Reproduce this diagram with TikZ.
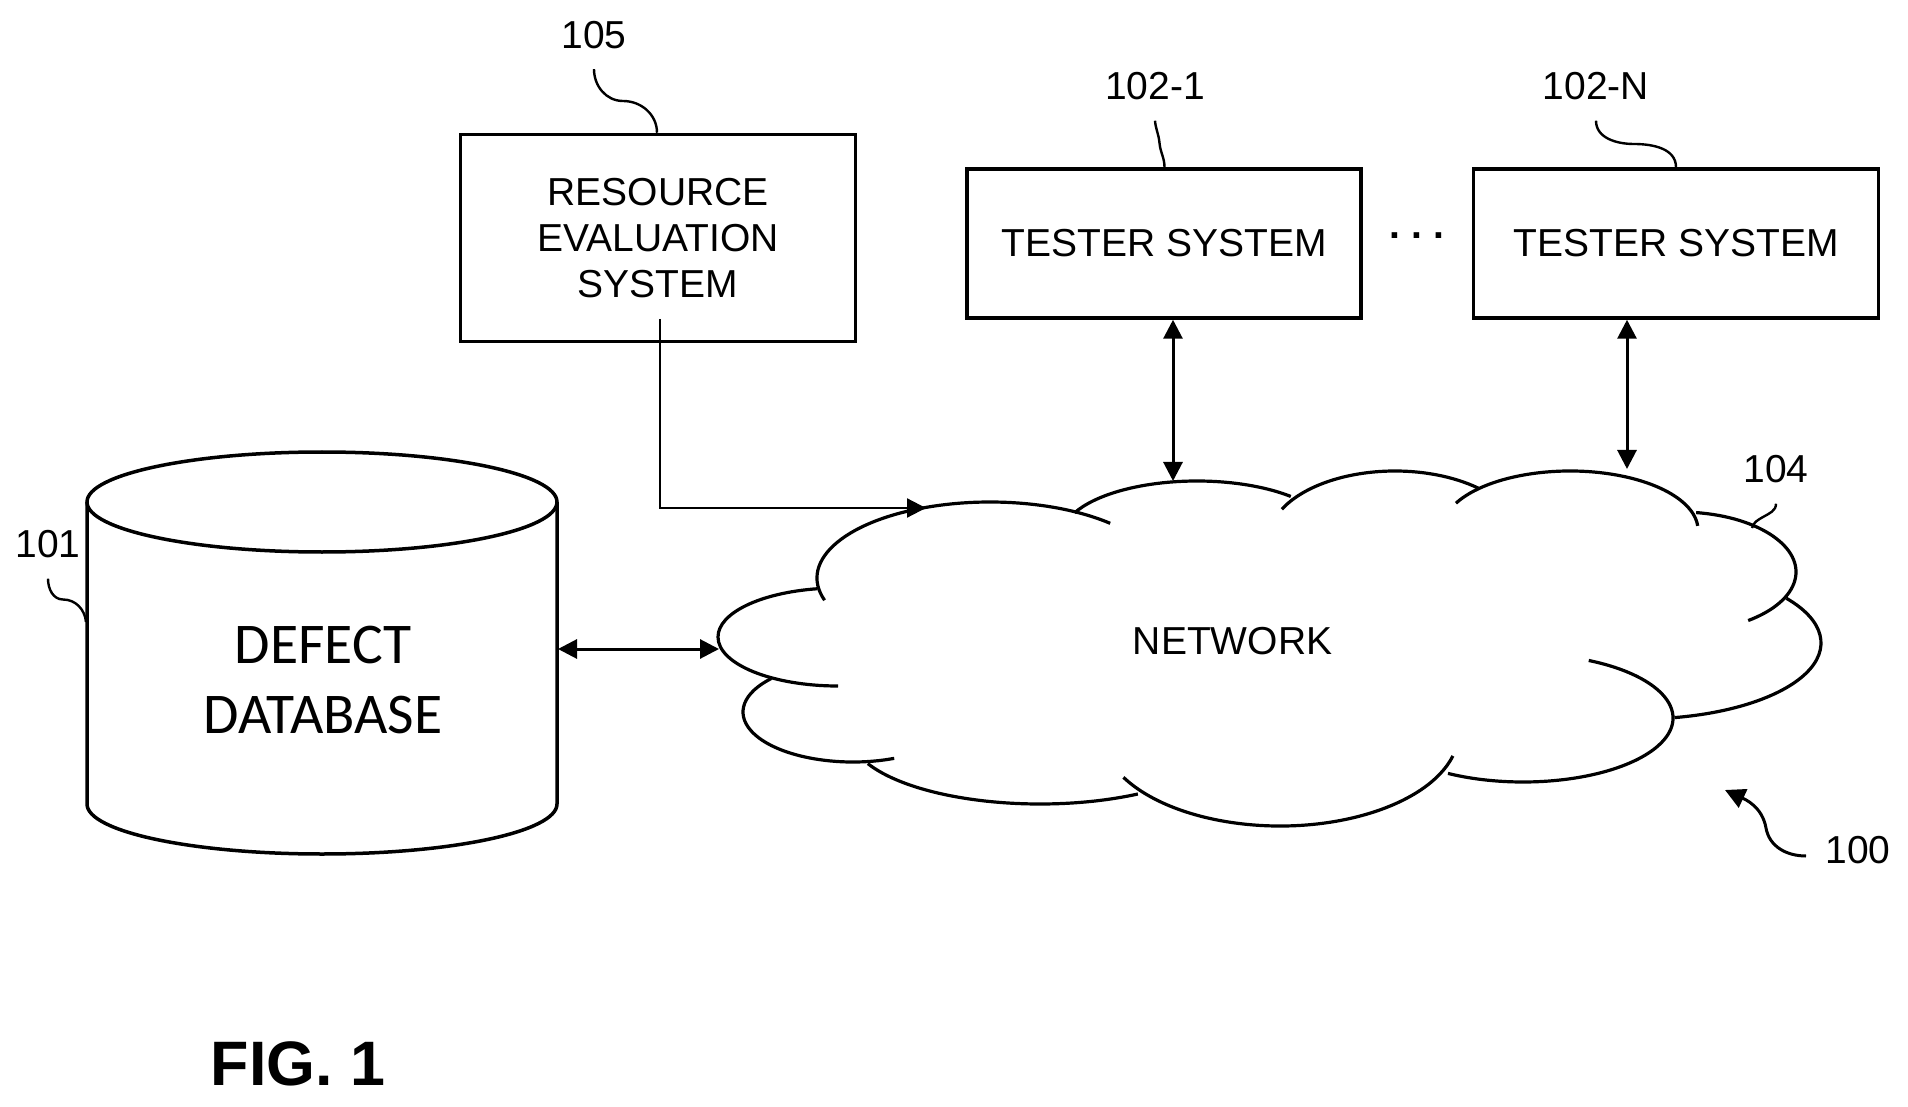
\documentclass[tikz,border=0pt]{standalone}
\usepackage{fontspec}
\setmainfont{Liberation Sans}
\newfontfamily\dbfont{Carlito}
\usetikzlibrary{arrows.meta}
\frenchspacing
\tikzset{
	sysbox/.style={draw,line width=1.75pt,minimum height=149*0.5pt,inner sep=0pt},
	tag/.style={inner sep=0pt},
	tagline/.style={line width=1.2pt},
	lobe/.style={line width=1.6pt},
	both/.style={line width=1.5pt,{Triangle[length=9.5pt,width=9.5pt]}-{Triangle[length=9.5pt,width=9.5pt]}},
	one/.style={line width=1.1pt,-{Triangle[length=9.5pt,width=9.5pt]}}
}
% one lobe of the cloud: centre x, centre y, radii, first and last angle
\newcommand{\lobe}[6]{\draw[lobe] ({#1+#3*cos(#5)},{#2+#4*sin(#5)}) arc [start angle=#5,end angle=#6,x radius=#3,y radius=#4];}
\begin{document}
\begin{tikzpicture}[x=0.5pt,y=-0.5pt,every node/.style={font=\fontsize{19.5}{23.2}\selectfont}]
\useasboundingbox (0,0) rectangle (1908,1107);
	% boxes
	\node[sysbox,minimum width=395*0.5pt,minimum height=207*0.5pt,align=center] (res) at (658,238) {RESOURCE\\EVALUATION\\SYSTEM};
	\node[sysbox,minimum width=394*0.5pt] (tester1) at (1164,243.5) {TESTER SYSTEM};
	\node[sysbox,minimum width=405*0.5pt] (testerN) at (1676,243.5) {TESTER SYSTEM};
	\node[inner sep=0pt] (dots) at (1417,236) {\bfseries . . .};
	% database
	\draw[line width=1.75pt] (322,502) ellipse [x radius=235,y radius=50];
	\draw[line width=1.75pt] (87,502) -- (87,804) arc [start angle=180,end angle=0,x radius=235,y radius=50] -- (557,502);
	\node[align=center,font=\dbfont\fontsize{28.8}{35}\selectfont] (db) at (323,680) {DEFECT\\DATABASE};
	% network
	\node (net) at (1232.5,641) {NETWORK};
	\lobe{990}{578}{173}{76}{163}{314}
	\lobe{1197}{536}{135}{55}{205}{314}
	\lobe{1395}{541}{127}{70}{207}{311}
	\lobe{1570}{530}{128}{59}{207}{356}
	\lobe{1680}{572}{116}{60}{278}{414}
	\lobe{1640}{643}{181}{76}{324}{439}
	\lobe{1523}{718}{150}{64}{296}{480}
	\lobe{1280}{731.5}{179}{94.5}{15}{151}
	\lobe{1040}{734}{190}{70}{59}{155}
	\lobe{853}{712}{110}{50}{68}{222}
	\lobe{838}{637}{120}{49}{90}{260}
	% connectors
	\coordinate (dbeast) at (558,649);
	\coordinate (netwest) at (719,649);
	\coordinate (netnw) at (926,508);
	\coordinate (resout) at (660,319);
	\coordinate (nettop1) at (1173,481);
	\coordinate (nettopN) at (1627,469);
	\draw[both] (dbeast) -- (netwest);
	\draw[one] (resout) |- (netnw);
	\draw[both] (tester1.south -| nettop1) -- (nettop1);
	\draw[both] (testerN.south -| nettopN) -- (nettopN);
	% tags
	\node[tag] (tag105) at (594,35) {105};
	\node[tag] (tag102a) at (1155,86.5) {102-1};
	\node[tag] (tag102n) at (1596,86.5) {102-N};
	\node[tag] (tag101) at (48,544.5) {101};
	\node[tag] (tag104) at (1776,469.5) {104};
	\node[tag] (tag100) at (1858,850) {100};
	\draw[tagline] ([yshift=-10pt]tag105.south) to[out=-90,in=180] (623,101) to[out=0,in=90] (res.north -| 657,0);
	\draw[tagline] ([yshift=-10pt]tag102a.south) to[out=-85,in=95] (1159.5,143) to[out=-85,in=90] (tester1.north -| 1164.5,0);
	\draw[tagline] ([yshift=-10pt]tag102n.south) to[out=-90,in=180] (1634,144) to[out=0,in=90] (testerN.north -| 1676,0);
	\coordinate (dbtag) at (86,622);
	\draw[tagline] ([yshift=-10pt]tag101.south) to[out=-90,in=180] (63,599.5) to[out=0,in=95] (dbtag);
	\coordinate (nettag) at (1752,528);
	\draw[tagline] ([yshift=-10pt]tag104.south) to[out=-90,in=30] (1763,517) to[out=210,in=75] (nettag);
	\coordinate (sysarrow) at (1725,790);
	\draw[line width=1.5pt,-{Triangle[length=10pt,width=10pt]}] (1806,856) to[out=180,in=-80] (1766,828) to[out=100,in=-25] (sysarrow);
	\node[font=\bfseries\fontsize{31.4}{38}\selectfont,inner sep=0pt] (fig) at (298,1064) {FIG. 1};
\end{tikzpicture}
\end{document}
